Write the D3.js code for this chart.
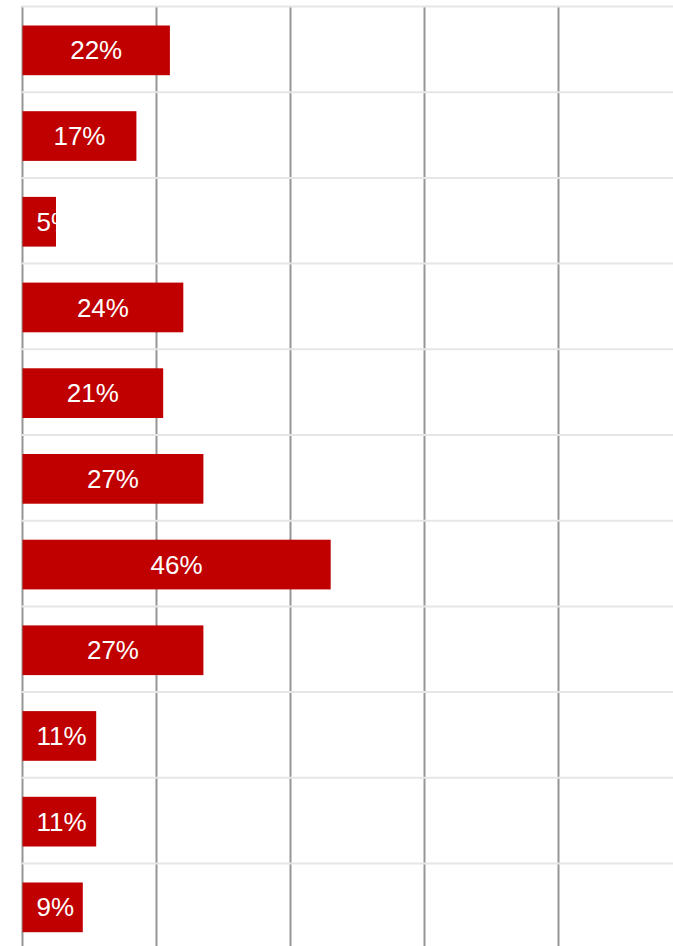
<!DOCTYPE html>
<html>
<head>
<meta charset="utf-8">
<script src="https://cdn.jsdelivr.net/npm/d3@7"></script>
<style>
  html, body { margin: 0; padding: 0; background: #fff; }
  svg { display: block; }
  .bar-label { font-family: "Liberation Sans", Arial, sans-serif; font-size: 26px; fill: #fff; }
</style>
</head>
<body>
<div id="chart"></div>
<script>
// data
var categories = ["r1", "r2", "r3", "r4", "r5", "r6", "r7", "r8", "r9", "r10", "r11"];
var values = [22, 17, 5, 24, 21, 27, 46, 27, 11, 11, 9];
var tickValues = [0, 20, 40, 60, 80, 100];

var svgWidth = 673;
var svgHeight = 946;

var svg = d3.select("#chart")
  .append("svg")
  .attr("width", svgWidth)
  .attr("height", svgHeight);

var x = d3.scaleLinear()
  .domain([0, 100])
  .range([22.5, 692.5]);

var y = d3.scaleBand()
  .domain(categories)
  .range([6.5, 6.5 + 11 * 85.7])
  .paddingInner(0.42)
  .paddingOuter(0.21);

var data = categories.map(function(c, i) { return { cat: c, value: values[i] }; });

// vertical grid lines
svg.append("g")
  .selectAll("line")
  .data(tickValues)
  .enter()
  .append("line")
  .attr("x1", d => x(d))
  .attr("x2", d => x(d))
  .attr("y1", 6)
  .attr("y2", svgHeight)
  .attr("stroke", "#959595")
  .attr("stroke-width", 2);

// clip paths so labels don't leak out of short bars
var defs = svg.append("defs");
defs.selectAll("clipPath")
  .data(data)
  .enter()
  .append("clipPath")
  .attr("id", (d, i) => "clip" + i)
  .append("rect")
  .attr("x", x(0))
  .attr("y", d => y(d.cat) + 1)
  .attr("width", d => x(d.value) - x(0))
  .attr("height", y.bandwidth());

// bars
svg.append("g")
  .selectAll("rect")
  .data(data)
  .enter()
  .append("rect")
  .attr("x", x(0))
  .attr("y", d => y(d.cat) + 1)
  .attr("width", d => x(d.value) - x(0))
  .attr("height", y.bandwidth())
  .attr("fill", "#c00000");

// row separators drawn over the grid
var half = (y.step() - y.bandwidth()) / 2;
svg.append("g")
  .selectAll("line")
  .data(categories)
  .enter()
  .append("line")
  .attr("x1", x(0) - 1)
  .attr("x2", svgWidth)
  .attr("y1", d => y(d) - half)
  .attr("y2", d => y(d) - half)
  .attr("stroke", "#e6e6e6")
  .attr("stroke-width", 2);

// labels: centred in the bar but never closer than 14px to its start
var labels = svg.append("g")
  .selectAll("text")
  .data(data)
  .enter()
  .append("text")
  .attr("class", "bar-label")
  .attr("clip-path", (d, i) => "url(#clip" + i + ")")
  .attr("y", d => y(d.cat) + 1 + y.bandwidth() / 2)
  .attr("dy", "0.35em")
  .text(d => d.value + "%");

labels.each(function(d) {
  var w = this.getComputedTextLength();
  var cx = (x(0) + x(d.value)) / 2;
  var left = Math.max(cx - w / 2, x(0) + 14);
  d3.select(this).attr("x", left);
});
</script>
</body>
</html>
